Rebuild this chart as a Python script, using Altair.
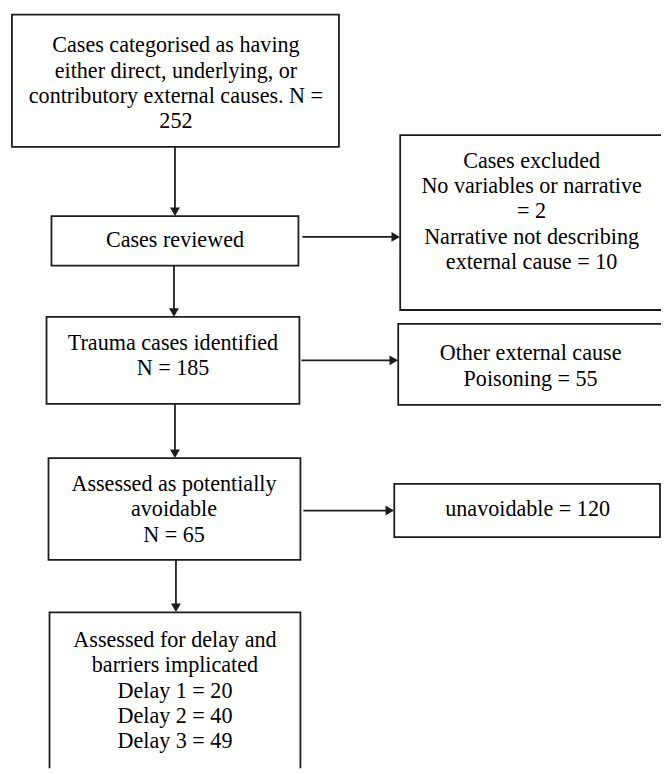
import altair as alt
import pandas as pd

# Box texts
labels = [
    "Cases categorised as having\neither direct, underlying, or\ncontributory external causes. N =\n252",
    "Cases reviewed",
    "Cases excluded\nNo variables or narrative\n= 2\nNarrative not describing\nexternal cause = 10",
    "Trauma cases identified\nN = 185",
    "Other external cause\nPoisoning = 55",
    "Assessed as potentially\navoidable\nN = 65",
    "unavoidable = 120",
    "Assessed for delay and\nbarriers implicated\nDelay 1 = 20\nDelay 2 = 40\nDelay 3 = 49",
]

# Layout (page pixel coordinates)
box_left = [12, 52, 405, 47, 403, 49, 399, 50]
box_right = [343, 302, 681, 303, 671, 304, 668, 304]
box_top = [10, 214, 132, 316, 323, 459, 485, 615]
box_bottom = [144, 264, 309, 404, 405, 562, 539, 800]
text_x = [178, 177, 538, 175, 537, 176, 534, 177]
text_y = [41, 238, 158, 342, 353, 485, 511, 643]   # first line

v_x = [177, 176, 177, 178]
v_from = [144, 264, 404, 562]
v_to = [214, 316, 459, 615]
h_y = [235, 360, 512]
h_from = [306, 305, 307]
h_to = [405, 403, 399]

W, H = 661, 765
xs = alt.Scale(domain=[8, 8 + W], nice=False, zero=False)
ys = alt.Scale(domain=[8, 8 + H], nice=False, zero=False, reverse=True)
INK = "#1c1c1c"

boxes = pd.DataFrame({"label": labels, "x1": box_left, "x2": box_right,
                      "y1": box_top, "y2": box_bottom, "tx": text_x, "ty": text_y})
vlines = pd.DataFrame({"x": v_x, "y1": v_from, "y2": v_to})
hlines = pd.DataFrame({"y": h_y, "x1": h_from, "x2": h_to})
vlines["tip"] = vlines["y2"] - 4.5
hlines["tip"] = hlines["x2"] - 4.5

rects = alt.Chart(boxes).mark_rect(fill="white", stroke=INK, strokeWidth=1.8, clip=True).encode(
    x=alt.X("x1:Q", scale=xs, axis=None), x2="x2:Q",
    y=alt.Y("y1:Q", scale=ys, axis=None), y2="y2:Q")

texts = alt.Chart(boxes).mark_text(font="Liberation Serif", fontSize=22.4, lineHeight=25.7,
                                   lineBreak="\n", align="center", baseline="middle",
                                   color="black").encode(
    x=alt.X("tx:Q", scale=xs, axis=None), y=alt.Y("ty:Q", scale=ys, axis=None),
    text="label:N")

vr = alt.Chart(vlines).mark_rule(color=INK, strokeWidth=1.8).encode(
    x=alt.X("x:Q", scale=xs, axis=None), y=alt.Y("y1:Q", scale=ys, axis=None), y2="tip:Q")
va = alt.Chart(vlines).mark_point(shape="triangle-down", filled=True, size=100,
                                  color=INK, opacity=1).encode(
    x=alt.X("x:Q", scale=xs, axis=None), y=alt.Y("tip:Q", scale=ys, axis=None))

hr = alt.Chart(hlines).mark_rule(color=INK, strokeWidth=1.8).encode(
    y=alt.Y("y:Q", scale=ys, axis=None), x=alt.X("x1:Q", scale=xs, axis=None), x2="tip:Q")
ha = alt.Chart(hlines).mark_point(shape="triangle-right", filled=True, size=100,
                                  color=INK, opacity=1).encode(
    y=alt.Y("y:Q", scale=ys, axis=None), x=alt.X("tip:Q", scale=xs, axis=None))

chart = alt.layer(rects, vr, hr, va, ha, texts).properties(
    width=W, height=H, padding=0, autosize=alt.AutoSizeParams(type="none"),
    background="white"
).configure_view(stroke=None)

chart.save("out.html", embed_options={"renderer": "svg", "actions": False})
